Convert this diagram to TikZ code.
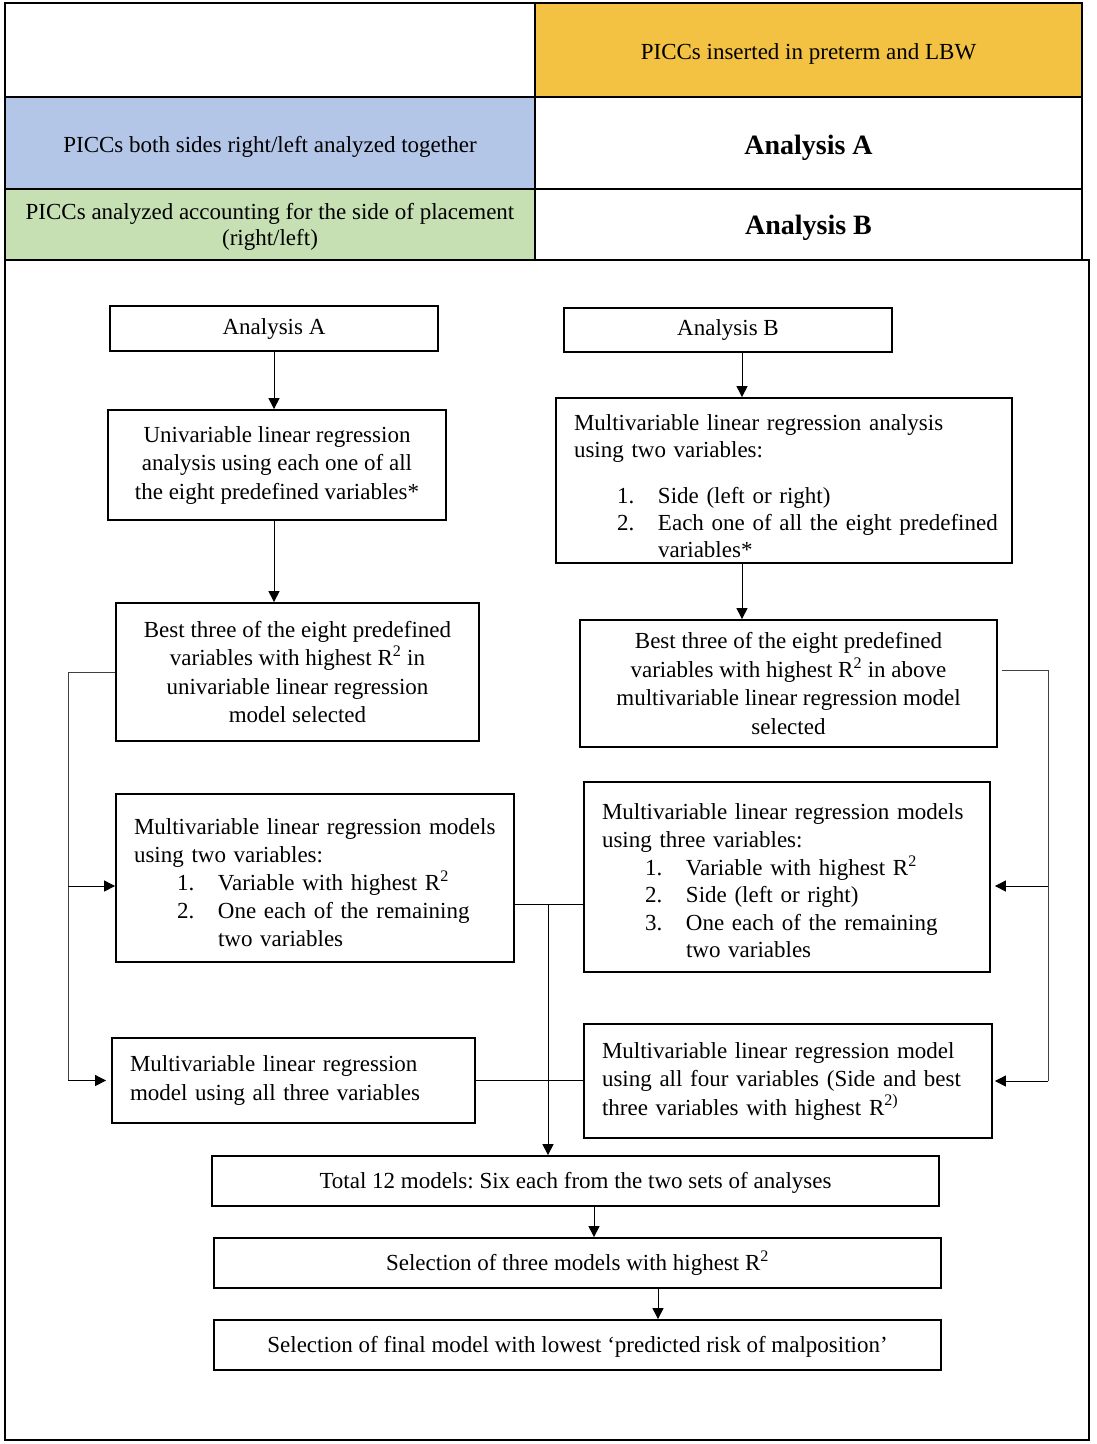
\documentclass[tikz,border=0pt]{standalone}
\usepackage{fontspec}
\setmainfont{Liberation Serif}
\usetikzlibrary{arrows.meta,calc}
\definecolor{hdrorange}{RGB}{244,194,66}
\definecolor{hdrblue}{RGB}{180,198,231}
\definecolor{hdrgreen}{RGB}{198,224,180}
\newcommand{\flitem}[2]{\mbox{\hspace*{43pt}\makebox[41pt][l]{#1}#2}}
\newcommand{\flcont}[1]{\mbox{\hspace*{84pt}#1}}
\begin{document}
\frenchspacing
\begin{tikzpicture}[x=1pt,y=-1pt,
  txt/.style={font=\fontsize{23}{28.5}\selectfont\frenchspacing},
  cell/.style={draw=black,line width=2pt,inner sep=0pt,align=center,txt},
  fbox/.style={draw=black,line width=1.8pt,inner sep=0pt,align=center,txt},
  lbox/.style={draw=black,line width=1.8pt,inner ysep=0pt,inner xsep=18pt,align=left,txt},
  conn/.style={line width=1pt},
  busline/.style={line width=1pt,draw=black!75},
  arr/.style={line width=1pt,-{Triangle[length=11pt,width=11pt]}},
]
\useasboundingbox (0,0) rectangle (1096,1444);

% ---- header table ----
\node[cell,minimum width=530pt,minimum height=94pt] (c00) at (270,50) {};
\node[cell,fill=hdrorange,minimum width=547pt,minimum height=94pt] (c01) at (808.5,50) {\rule{0pt}{23pt}PICCs inserted in preterm and LBW};
\node[cell,fill=hdrblue,minimum width=530pt,minimum height=92pt] (c10) at (270,143) {\rule{0pt}{24pt}PICCs both sides right/left analyzed together};
\node[cell,minimum width=547pt,minimum height=92pt] (c11) at (808.5,143) {\fontsize{28}{32}\selectfont\bfseries\rule{0pt}{29pt}Analysis A};
\node[cell,fill=hdrgreen,minimum width=530pt,minimum height=71pt,font=\fontsize{23}{26}\selectfont] (c20) at (270,224.5) {\rule{0pt}{21pt}PICCs analyzed accounting for the side of placement\\(right/left)};
\node[cell,minimum width=547pt,minimum height=71pt] (c21) at (808.5,224.5) {\fontsize{28}{32}\selectfont\bfseries\rule{0pt}{27pt}Analysis B};

% ---- flowchart frame ----
\draw[line width=2pt] (5,260) rectangle (1089,1440);

% ---- flowchart boxes ----
\node[fbox,minimum width=328pt,minimum height=45pt] (anaA) at (274,328.5) {Analysis A};
\node[fbox,minimum width=328pt,minimum height=44pt] (anaB) at (728,330) {Analysis B};
\node[fbox,minimum width=338pt,minimum height=110pt] (uni) at (277,465) {Univariable linear regression\\analysis using each one of all\\the eight predefined variables*};
\node[lbox,text width=420pt,minimum height=165pt,font=\fontsize{23}{27}\selectfont] (multB) at (784,480.5) {\rule{0pt}{28pt}\mbox{Multivariable linear regression analysis}\\using two variables:\\[19pt]\flitem{1.}{Side (left or right)}\\\flitem{2.}{Each one of all the eight predefined}\\\flcont{variables*}};
\node[fbox,minimum width=363pt,minimum height=138pt] (best3A) at (297.5,672) {Best three of the eight predefined\\variables with highest R\textsuperscript{2} in\\univariable linear regression\\model selected};
\node[fbox,minimum width=417pt,minimum height=127pt] (best3B) at (788.5,683.5) {Best three of the eight predefined\\variables with highest R\textsuperscript{2} in above\\multivariable linear regression model\\selected};
\node[lbox,text width=362pt,minimum height=168pt,font=\fontsize{23}{28}\selectfont] (multi2A) at (315,878) {\rule{0pt}{25pt}\mbox{Multivariable linear regression models}\\using two variables:\\\flitem{1.}{Variable with highest R\textsuperscript{2}}\\\flitem{2.}{One each of the remaining}\\\flcont{two variables}};
\node[lbox,text width=370pt,minimum height=190pt,font=\fontsize{23}{27.6}\selectfont] (multi3B) at (787,877) {\rule{0pt}{24pt}\mbox{Multivariable linear regression models}\\using three variables:\\\flitem{1.}{Variable with highest R\textsuperscript{2}}\\\flitem{2.}{Side (left or right)}\\\flitem{3.}{One each of the remaining}\\\flcont{two variables}};
\node[lbox,text width=327pt,minimum height=85pt] (multi3A) at (293.5,1080.5) {Multivariable linear regression\\model using all three variables};
\node[lbox,text width=372pt,minimum height=114pt] (multi4B) at (788,1081) {\mbox{Multivariable linear regression model}\\\mbox{using all four variables (Side and best}\\three variables with highest R\textsuperscript{2)}};
\node[fbox,minimum width=727pt,minimum height=50pt] (total) at (575.5,1181) {\rule{0pt}{20pt}Total 12 models: Six each from the two sets of analyses};
\node[fbox,minimum width=727pt,minimum height=50pt] (sel3) at (577.5,1263) {Selection of three models with highest R\textsuperscript{2}};
\node[fbox,minimum width=727pt,minimum height=50pt] (final) at (577.5,1345) {\rule{0pt}{20pt}Selection of final model with lowest ‘predicted risk of malposition’};

% ---- helper coordinates ----
\coordinate (ax) at (274,0);
\coordinate (bx) at (742,0);
\coordinate (lb) at (68,0);
\coordinate (rb) at (1048,0);
\coordinate (ry) at (0,886);
\coordinate (ry0) at (0,670);
\coordinate (my) at (0,904);
\coordinate (mb) at (548,0);
\coordinate (tx) at (594,0);
\coordinate (sx) at (658,0);

% ---- connectors ----
\draw[arr] (anaA.south -| ax) -- (uni.north -| ax);
\draw[arr] (uni.south -| ax) -- (best3A.north -| ax);
\draw[arr] (anaB.south -| bx) -- (multB.north -| bx);
\draw[arr] (multB.south -| bx) -- (best3B.north -| bx);

\draw[busline] (best3A.west) -| (lb |- multi3A.west);
\draw[arr] (lb |- multi3A.west) -- ([xshift=-5pt]multi3A.west);
\draw[arr] (lb |- ry) -- (multi2A.west |- ry);

\draw[busline] ([xshift=4pt]best3B.east |- ry0) -| (rb |- multi4B.east);
\draw[arr] (rb |- multi4B.east) -- ([xshift=2pt]multi4B.east);
\draw[arr] (rb |- ry) -- ([xshift=4pt]multi3B.east |- ry);

\draw[conn] (multi2A.east |- my) -- (multi3B.west |- my);
\draw[conn] (multi3A.east) -- (multi4B.west |- multi3A.east);
\draw[arr] (mb |- my) -- (mb |- total.north);

\draw[arr] (total.south -| tx) -- (sel3.north -| tx);
\draw[arr] (sel3.south -| sx) -- (final.north -| sx);
\end{tikzpicture}
\end{document}
